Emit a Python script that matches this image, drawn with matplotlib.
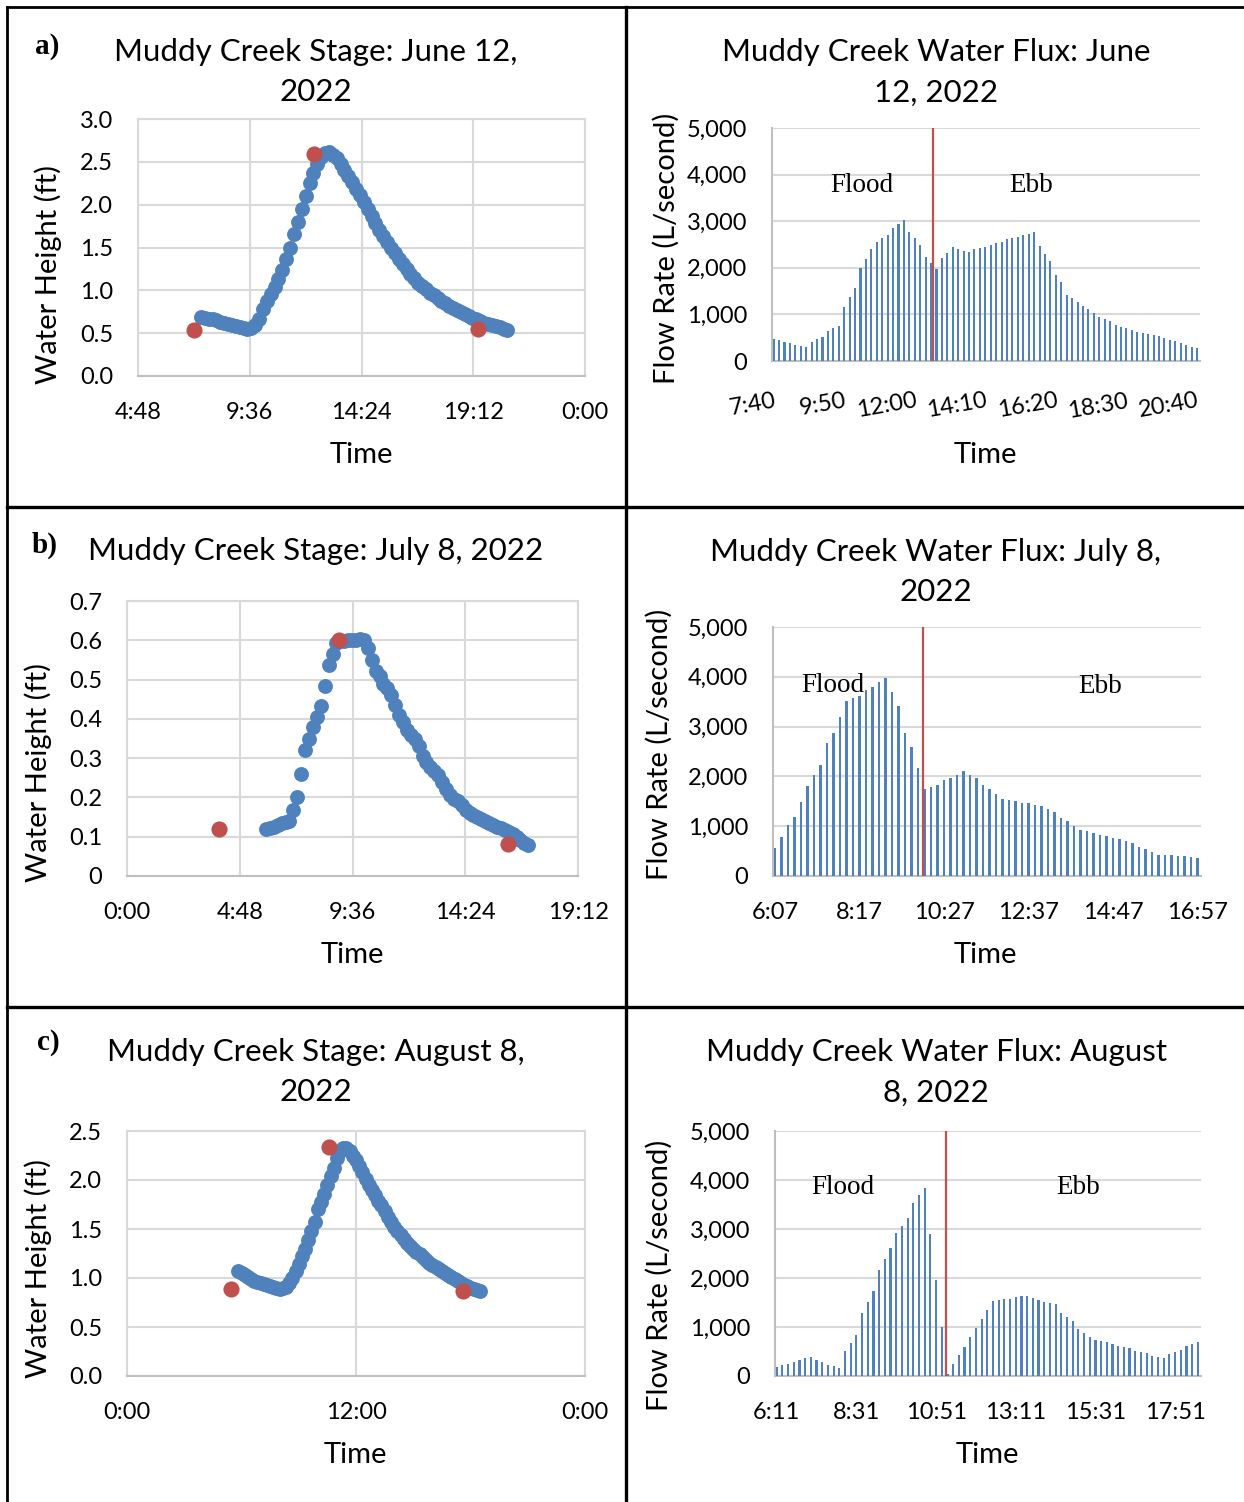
import numpy as np
import matplotlib
matplotlib.use('Agg')
import matplotlib.pyplot as plt
from matplotlib.lines import Line2D

plt.rcParams['font.family'] = ['Lato', 'DejaVu Sans']

BLUE = '#4F81BD'
RED = '#C0504D'
GRID = '#D9D9D9'
AXIS = '#BFBFBF'
SERIF = ['Liberation Serif', 'DejaVu Serif']

# Stage records, one reading every 10 minutes from the start time (ft)
june_stage_start = '7:30'
june_stage_ft = [0.69, 0.68, 0.67, 0.66, 0.65, 0.63, 0.62, 0.61, 0.60, 0.58,
                 0.57, 0.56, 0.55, 0.56, 0.60, 0.66, 0.78, 0.87, 0.96, 1.04,
                 1.13, 1.24, 1.36, 1.49, 1.66, 1.80, 1.95, 2.10, 2.25, 2.37,
                 2.48, 2.56, 2.60, 2.61, 2.58, 2.54, 2.47, 2.40, 2.33, 2.26,
                 2.18, 2.11, 2.03, 1.95, 1.87, 1.79, 1.71, 1.64, 1.57, 1.50,
                 1.43, 1.37, 1.31, 1.25, 1.19, 1.14, 1.09, 1.05, 1.01, 0.97,
                 0.94, 0.91, 0.88, 0.85, 0.82, 0.79, 0.77, 0.75, 0.72, 0.70,
                 0.68, 0.66, 0.64, 0.62, 0.61, 0.60, 0.58, 0.57, 0.55, 0.54]
june_marks_time = ['7:12', '12:22', '19:25']
june_marks_ft = [0.54, 2.59, 0.55]

july_stage_start = '5:55'
july_stage_ft = [0.120, 0.122, 0.125, 0.130, 0.134, 0.137, 0.140, 0.168, 0.200, 0.260,
                 0.320, 0.350, 0.380, 0.405, 0.433, 0.484, 0.537, 0.564, 0.592, 0.598,
                 0.598, 0.600, 0.601, 0.602, 0.603, 0.600, 0.580, 0.550, 0.523, 0.508,
                 0.490, 0.478, 0.462, 0.435, 0.410, 0.393, 0.372, 0.360, 0.350, 0.330,
                 0.305, 0.290, 0.277, 0.268, 0.257, 0.240, 0.222, 0.207, 0.197, 0.190,
                 0.180, 0.168, 0.160, 0.155, 0.150, 0.146, 0.141, 0.135, 0.130, 0.126,
                 0.121, 0.117, 0.113, 0.107, 0.100, 0.092, 0.085, 0.080]
july_marks_time = ['3:55', '9:01', '16:12']
july_marks_ft = [0.120, 0.600, 0.081]

aug_stage_start = '5:50'
aug_stage_ft = [1.07, 1.05, 1.03, 1.01, 0.99, 0.97, 0.96, 0.95, 0.94, 0.93,
                0.92, 0.91, 0.90, 0.89, 0.90, 0.91, 0.95, 1.00, 1.07, 1.14,
                1.22, 1.30, 1.39, 1.48, 1.57, 1.70, 1.78, 1.86, 1.95, 2.04,
                2.12, 2.22, 2.30, 2.33, 2.33, 2.30, 2.25, 2.20, 2.14, 2.08,
                2.01, 1.95, 1.90, 1.85, 1.79, 1.74, 1.68, 1.62, 1.57, 1.52,
                1.48, 1.44, 1.40, 1.36, 1.33, 1.30, 1.27, 1.24, 1.21, 1.18,
                1.15, 1.13, 1.11, 1.09, 1.07, 1.05, 1.03, 1.01, 0.99, 0.97,
                0.95, 0.93, 0.92, 0.90, 0.89, 0.88, 0.87]
aug_marks_time = ['5:26', '10:35', '17:37']
aug_marks_ft = [0.89, 2.34, 0.87]

# Water flux, one bar per 10 minutes (L/second)
june_flux = [479, 443, 407, 386, 336, 314, 293, 407, 464, 521,
             636, 700, 757, 1157, 1364, 1571, 1986, 2193, 2393, 2543,
             2629, 2707, 2864, 2943, 3029, 2764, 2629, 2500, 2236, 2107,
             1979, 2207, 2321, 2443, 2393, 2364, 2336, 2393, 2421, 2450,
             2500, 2529, 2557, 2614, 2643, 2657, 2707, 2729, 2771, 2464,
             2300, 2150, 1850, 1693, 1421, 1357, 1264, 1171, 1107, 1036,
             943, 900, 850, 771, 736, 700, 657, 614, 600, 579,
             550, 529, 493, 443, 421, 393, 336, 307, 286]
june_flux_ticks = ['7:40', '9:50', '12:00', '14:10', '16:20', '18:30', '20:40']
june_slack = 29.45

july_flux = [556, 791, 1025, 1180, 1495, 1810, 2024, 2232, 2661, 2869,
             3190, 3512, 3566, 3619, 3733, 3794, 3887, 3975, 3700, 3418,
             2862, 2587, 2165, 1749, 1790, 1836, 1924, 1971, 2031, 2105,
             2031, 1971, 1830, 1756, 1655, 1548, 1535, 1515, 1475, 1461,
             1428, 1401, 1340, 1280, 1160, 1099, 999, 918, 898, 871,
             824, 798, 757, 737, 704, 664, 583, 543, 476, 422,
             422, 416, 402, 395, 375, 369]
july_flux_ticks = ['6:07', '8:17', '10:27', '12:37', '14:47', '16:57']
july_slack = 22.8

aug_flux = [177, 224, 251, 279, 333, 360, 387, 333, 279, 224,
            197, 170, 510, 679, 836, 1284, 1501, 1726, 2167, 2391,
            2609, 2914, 3071, 3234, 3539, 3702, 3845, 2901, 1950, 999,
            41, 238, 421, 598, 788, 971, 1155, 1338, 1522, 1549,
            1562, 1576, 1603, 1624, 1637, 1596, 1549, 1508, 1488, 1461,
            1291, 1209, 1128, 965, 883, 795, 740, 713, 686, 645,
            618, 584, 564, 516, 489, 469, 414, 394, 374, 448,
            489, 530, 605, 652, 686]
aug_flux_ticks = ['6:11', '8:31', '10:51', '13:11', '15:31', '17:51']
aug_slack = 29.8

W, H = 1244, 1502
fig = plt.figure(figsize=(W / 100, H / 100), dpi=100)


def box(x0, y0, x1, y1):
    return [x0 / W, 1 - y1 / H, (x1 - x0) / W, (y1 - y0) / H]


def put(x, y, s, **kw):
    fig.text(x / W, 1 - y / H, s, ha='center', va='center', **kw)


def hours(clock):
    h, m = clock.split(':')
    return int(h) + int(m) / 60


def clock_label(h):
    h = h % 24
    return f'{int(h)}:{int(round((h % 1) * 60)):02d}'


def series_hours(start, n):
    return hours(start) + np.arange(n) / 6


def stage_panel(rect, start, heights, mark_t, mark_h, xticks, yticks, yfmt):
    ax = fig.add_axes(box(*rect))
    t = series_hours(start, len(heights))
    ax.scatter(t, heights, s=115, color=BLUE, linewidths=0, zorder=3, clip_on=False)
    ax.scatter([hours(c) for c in mark_t], mark_h, s=135, color=RED,
               linewidths=0, zorder=4, clip_on=False)
    ax.set_xlim(xticks[0], xticks[-1])
    ax.set_ylim(yticks[0], yticks[-1])
    ax.set_xticks(xticks)
    ax.set_xticklabels([clock_label(x) for x in xticks])
    ax.set_yticks(yticks)
    ax.set_yticklabels([yfmt(v) for v in yticks])
    ax.grid(True, color=GRID, lw=1.5)
    ax.set_axisbelow(True)
    for s in ax.spines.values():
        s.set_color(GRID)
        s.set_linewidth(1.5)
    ax.spines['bottom'].set_color(AXIS)
    ax.tick_params(axis='both', length=0, labelsize=17)
    ax.tick_params(axis='x', pad=19)
    ax.tick_params(axis='y', pad=18)
    return ax


def flux_panel(rect, flux, tick_labels, step, slack, rotate=0):
    ax = fig.add_axes(box(*rect))
    idx = np.arange(len(flux))
    ax.bar(idx, flux, width=0.38, color=BLUE, zorder=3)
    ax.axvline(slack, color=RED, lw=1.6, zorder=4)
    ax.set_xlim(-0.3, len(flux) - 0.45)
    ax.set_ylim(0, 5000)
    ax.set_yticks(range(0, 5001, 1000))
    ax.set_yticklabels([f'{v:,}' for v in range(0, 5001, 1000)])
    ax.set_xticks(idx[::step][:len(tick_labels)])
    if rotate:
        ax.set_xticklabels(tick_labels, rotation=rotate, ha='right', va='top',
                           rotation_mode='anchor')
    else:
        ax.set_xticklabels(tick_labels)
    ax.yaxis.grid(True, color=GRID, lw=1.5)
    ax.set_axisbelow(True)
    for side in ['top', 'right']:
        ax.spines[side].set_visible(False)
    for side in ['left', 'bottom']:
        ax.spines[side].set_color(AXIS)
        ax.spines[side].set_linewidth(1.5)
    ax.tick_params(axis='both', length=0, labelsize=17)
    ax.tick_params(axis='x', pad=21 if rotate else 19)
    ax.tick_params(axis='y', pad=18)
    return ax


one_dec = lambda v: f'{v:.1f}'
general = lambda v: '0' if v == 0 else f'{v:g}'

# a) June 12
stage_panel((138, 119, 585, 376), june_stage_start, june_stage_ft,
            june_marks_time, june_marks_ft,
            [4.8, 9.6, 14.4, 19.2, 24.0], np.arange(0, 3.01, 0.5), one_dec)
flux_panel((772, 128, 1200, 361), june_flux, june_flux_ticks, 13, june_slack, rotate=10)

# b) July 8
stage_panel((127, 601, 578, 876), july_stage_start, july_stage_ft,
            july_marks_time, july_marks_ft,
            [0.0, 4.8, 9.6, 14.4, 19.2], np.round(np.arange(0, 0.71, 0.1), 1), general)
flux_panel((773, 627, 1201, 876), july_flux, july_flux_ticks, 13, july_slack)

# c) August 8
stage_panel((127, 1131, 585, 1376), aug_stage_start, aug_stage_ft,
            aug_marks_time, aug_marks_ft,
            [0.0, 12.0, 24.0], np.arange(0, 2.51, 0.5), one_dec)
flux_panel((775, 1131, 1201, 1376), aug_flux, aug_flux_ticks, 14, aug_slack)

# titles
title_kw = dict(fontsize=22.5, linespacing=1.55)
put(316, 72, 'Muddy Creek Stage: June 12,\n2022', **title_kw)
put(936, 72, 'Muddy Creek Water Flux: June\n12, 2022', **title_kw)
put(316, 551, 'Muddy Creek Stage: July 8, 2022', **title_kw)
put(936, 572, 'Muddy Creek Water Flux: July 8,\n2022', **title_kw)
put(316, 1072, 'Muddy Creek Stage: August 8,\n2022', **title_kw)
put(936, 1072, 'Muddy Creek Water Flux: August\n8, 2022', **title_kw)

# axis titles
for x, y in [(361, 455), (985, 455), (352, 955), (985, 955), (355, 1455), (987, 1455)]:
    put(x, y, 'Time', fontsize=21)
for x, y in [(48, 274), (38, 772), (38, 1268)]:
    put(x, y, 'Water Height (ft)', fontsize=21, rotation=90)
for x, y in [(666, 248), (659, 744), (659, 1275)]:
    put(x, y, 'Flow Rate (L/second)', fontsize=21, rotation=90)

# panel letters
for x, y, s in [(47, 47, 'a)'), (45, 545, 'b)'), (48, 1043, 'c)')]:
    put(x, y, s, fontsize=21, fontweight='bold', family=SERIF)

# flood / ebb annotations
for x, y, s in [(862, 185, 'Flood'), (1031, 185, 'Ebb'),
                (833, 685, 'Flood'), (1100, 687, 'Ebb'),
                (843, 1187, 'Flood'), (1078, 1188, 'Ebb')]:
    put(x, y, s, fontsize=19.5, family=SERIF)

# table rules around the panels
def rule(x0, y0, x1, y1, lw):
    fig.add_artist(Line2D([x0 / W, x1 / W], [1 - y0 / H, 1 - y1 / H],
                          transform=fig.transFigure, color='black', lw=lw))

rule(7, 7, 7, H, 2.0)
rule(7, 7, W, 7, 2.0)
rule(626, 7, 626, H, 2.4)
rule(7, 507, W, 507, 2.4)
rule(7, 1007, W, 1007, 2.4)

fig.savefig('out.png', dpi=100, facecolor='white')
